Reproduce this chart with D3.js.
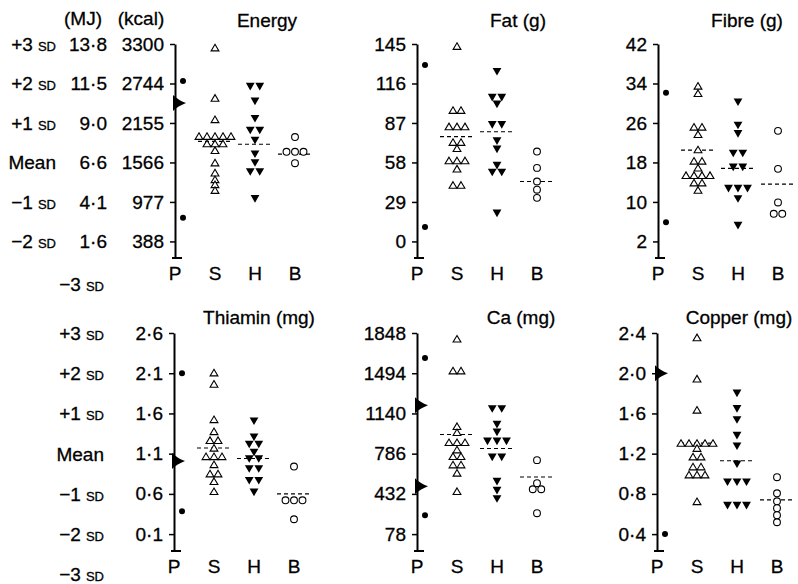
<!DOCTYPE html>
<html>
<head>
<meta charset="utf-8">
<script src="https://cdn.jsdelivr.net/npm/d3@7"></script>
<style>
  body { margin: 0; background: #fff; }
  svg { display: block; font-family: "Liberation Sans", Arial, sans-serif; }
  svg text { stroke: #000; stroke-width: 0.3px; }
</style>
</head>
<body>
<svg id="chart" width="798" height="584"></svg>
<script>
// Panels, left to right, top row then bottom row
const panelTitles = ["Energy", "Fat (g)", "Fibre (g)", "Thiamin (mg)", "Ca (mg)", "Copper (mg)"];
const categories = ["P", "S", "H", "B"];

// Each axis is drawn as mean +/- n SD
const axisMean = [1566, 58, 18, 1.1, 786, 1.2];
const axisSD = [589, 29, 8, 0.5, 354, 0.4];
const sdSteps = [3, 2, 1, 0, -1, -2];
const sdLabels = ["+3", "+2", "+1", "Mean", "\u22121", "\u22122"];

const tickLabels = [
  ["3300", "2744", "2155", "1566", "977", "388"],
  ["145", "116", "87", "58", "29", "0"],
  ["42", "34", "26", "18", "10", "2"],
  ["2\u00b76", "2\u00b71", "1\u00b76", "1\u00b71", "0\u00b76", "0\u00b71"],
  ["1848", "1494", "1140", "786", "432", "78"],
  ["2\u00b74", "2\u00b70", "1\u00b76", "1\u00b72", "0\u00b78", "0\u00b74"]
];
const mjLabels = ["13\u00b78", "11\u00b75", "9\u00b70", "6\u00b76", "4\u00b71", "1\u00b76"];

// P: single-subject dots and pointer marks on the axis
const pValues = [[2780, 740], [129.5, 10.5], [32.1, 5.9], [2.1, 0.385], [1627, 245], [0.4]];
const pArrows = [[2453], [], [], [1.01], [1213, 500], [2.0]];

// S group (open triangles)
const sValues = [
  [3270, 2520, 2200, 1950, 1950, 1950, 1950, 1950, 1840, 1840, 1840, 1740, 1555, 1405, 1305, 1230, 1145],
  [143, 96, 96, 84, 84, 84, 72.5, 72.5, 68, 59, 59, 59, 53, 41, 41],
  [33.4, 31.9, 25.1, 25.1, 23.6, 20.5, 18.2, 18.2, 16.8, 15.3, 15.3, 15.3, 15.3, 13.8, 13.8, 12.3],
  [2.1, 1.96, 1.52, 1.37, 1.26, 1.26, 1.165, 1.06, 1.06, 1.06, 0.96, 0.845, 0.845, 0.75, 0.625],
  [1792, 1512, 1512, 1022, 969, 881, 881, 881, 817, 758, 758, 685, 685, 612, 450],
  [2.35, 1.94, 1.63, 1.30, 1.30, 1.30, 1.30, 1.30, 1.25, 1.165, 1.165, 1.066, 1.066, 0.986, 0.986, 0.986, 0.72]
];
// H group (filled down triangles)
const hValues = [
  [2705, 2705, 2485, 2225, 2050, 2050, 1900, 1695, 1565, 1430, 1430, 1030],
  [125, 106, 106, 101, 86, 86, 74, 68, 56, 51, 51, 21],
  [30.3, 25.6, 23.9, 19.9, 19.9, 17.1, 17.1, 12.8, 12.8, 12.8, 10.7, 5.3],
  [1.51, 1.31, 1.22, 1.22, 1.12, 1.04, 1.04, 0.915, 0.915, 0.77, 0.77, 0.625],
  [1184, 1184, 1046, 978, 899, 899, 899, 758, 758, 544, 465, 391],
  [1.805, 1.65, 1.54, 1.384, 1.278, 1.10, 0.92, 0.92, 0.92, 0.688, 0.688, 0.688]
];
// B group (open circles)
const bValues = [
  [1945, 1725, 1725, 1725, 1555],
  [66, 54, 44, 38, 32],
  [24.4, 16.7, 9.9, 7.6, 7.6],
  [0.94, 0.52, 0.52, 0.52, 0.285],
  [729, 526, 473, 473, 262],
  [0.966, 0.806, 0.727, 0.658, 0.588, 0.518]
];
// group means (dashed lines)
const sMeans = [1880, 77, 20.5, 1.17, 955, 1.305];
const hMeans = [1837, 80.5, 16.8, 1.04, 832, 1.13];
const bMeans = [1690, 44, 13.6, 0.6, 580, 0.74];

// ---- layout ----
const svg = d3.select("#chart");
const axisX = [175, 417, 658, 174, 417, 657];
const titleDx = [92, 101, 89, 85, 104, 82];
const rows = [{ top: 44, foot: 258, title: 27 }, { top: 333, foot: 551, title: 324 }];
const colDx = { P: 0, S: 40, H: 80, B: 120 };
const fontSize = 19;

// spread equal values side by side
function dodge(values, spacing) {
  const out = [];
  for (const [v, arr] of d3.group(values, d => d)) {
    arr.forEach((_, i) => out.push({ v, dx: (i - (arr.length - 1) / 2) * spacing }));
  }
  return out;
}

const upTri = (x, y) => `M${x},${y - 3.9}L${x + 3.9},${y + 2.7}L${x - 3.9},${y + 2.7}Z`;
const downTri = (x, y) => `M${x - 4.4},${y - 3.3}L${x + 4.4},${y - 3.3}L${x},${y + 4.3}Z`;
const pointer = (x, y) => `M${x - 2},${y - 8}Q${x + 3},${y - 3} ${x + 11},${y}Q${x + 3},${y + 3} ${x - 2},${y + 8}Z`;

// left-hand SD labels
function sdLabel(sel, k, x, y) {
  const t = sel.append("text")
    .attr("x", x).attr("y", y).attr("dy", "0.36em")
    .attr("text-anchor", "end")
    .attr("font-size", fontSize);
  if (k === "Mean") { t.text("Mean"); return; }
  t.append("tspan").text(k);
  t.append("tspan").attr("font-size", 13).attr("dx", 5).text("SD");
}

rows.forEach((row, r) => {
  const i0 = r * 3;
  const y = d3.scaleLinear()
    .domain([axisMean[i0] - 2.42 * axisSD[i0], axisMean[i0] + 3 * axisSD[i0]])
    .range([row.foot, row.top]);
  const labelRight = r === 0 ? 56 : 104;
  sdSteps.forEach((k, j) => sdLabel(svg, sdLabels[j], labelRight, y(axisMean[i0] + k * axisSD[i0])));
  sdLabel(svg, "\u22123", 104, y(axisMean[i0] - 3 * axisSD[i0]) + (r === 0 ? 3 : 0));
});

// MJ column beside the energy axis
svg.append("text").attr("x", 83).attr("y", 25).attr("text-anchor", "middle")
  .attr("font-size", fontSize).text("(MJ)");
svg.append("text").attr("x", 141).attr("y", 25).attr("text-anchor", "middle")
  .attr("font-size", fontSize).text("(kcal)");

panelTitles.forEach((title, i) => {
  const row = rows[Math.floor(i / 3)];
  const ax = axisX[i];
  const mean = axisMean[i], sd = axisSD[i];
  const y = d3.scaleLinear()
    .domain([mean - 2.42 * sd, mean + 3 * sd])
    .range([row.foot, row.top]);
  const ticks = sdSteps.map(k => mean + k * sd);

  const g = svg.append("g");

  // axis
  const axis = g.append("g")
    .attr("transform", `translate(${ax},0)`)
    .call(d3.axisLeft(y)
      .tickValues(ticks)
      .tickFormat((d, j) => tickLabels[i][j])
      .tickSize(5)
      .tickSizeOuter(0)
      .tickPadding(6));
  axis.select(".domain").attr("stroke-width", 2);
  axis.selectAll(".tick line").attr("stroke-width", 1.5);
  axis.selectAll(".tick text")
    .attr("font-size", fontSize)
    .attr("font-family", "Liberation Sans, Arial, sans-serif")
    .attr("fill", "#000");

  g.append("line")
    .attr("x1", ax - 3).attr("x2", ax + 7)
    .attr("y1", row.foot).attr("y2", row.foot)
    .attr("stroke", "#000").attr("stroke-width", 2);

  if (i === 0) {
    g.selectAll("text.mj")
      .data(ticks)
      .enter().append("text")
        .attr("class", "mj")
        .attr("x", 107)
        .attr("y", d => y(d))
        .attr("dy", "0.36em")
        .attr("text-anchor", "end")
        .attr("font-size", fontSize)
        .text((d, j) => mjLabels[j]);
  }

  // title
  g.append("text")
    .attr("x", ax + titleDx[i])
    .attr("y", row.title)
    .attr("text-anchor", "middle")
    .attr("font-size", fontSize)
    .text(title);

  // category labels
  g.selectAll("text.cat")
    .data(categories)
    .enter().append("text")
      .attr("class", "cat")
      .attr("x", d => ax + colDx[d])
      .attr("y", row.foot + 22)
      .attr("text-anchor", "middle")
      .attr("font-size", fontSize)
      .text(d => d);

  // P column
  g.selectAll("path.ptr")
    .data(pArrows[i])
    .enter().append("path")
      .attr("class", "ptr")
      .attr("d", d => pointer(ax, y(d)))
      .attr("fill", "#000");
  g.selectAll("circle.p")
    .data(pValues[i])
    .enter().append("circle")
      .attr("class", "p")
      .attr("cx", ax + 8)
      .attr("cy", d => y(d))
      .attr("r", 3)
      .attr("fill", "#000");

  // mean lines
  [["S", sMeans], ["H", hMeans], ["B", bMeans]].forEach(([c, m]) => {
    g.append("line")
      .attr("x1", ax + colDx[c] - 17).attr("x2", ax + colDx[c] + 17)
      .attr("y1", y(m[i])).attr("y2", y(m[i]))
      .attr("stroke", "#000")
      .attr("stroke-width", 1.1)
      .attr("stroke-dasharray", "4,3");
  });

  // S
  g.selectAll("path.s")
    .data(dodge(sValues[i], 8))
    .enter().append("path")
      .attr("class", "s")
      .attr("d", d => upTri(ax + colDx.S + d.dx, y(d.v)))
      .attr("fill", "#fff")
      .attr("stroke", "#000")
      .attr("stroke-width", 1.1);

  // H
  g.selectAll("path.h")
    .data(dodge(hValues[i], 9.5))
    .enter().append("path")
      .attr("class", "h")
      .attr("d", d => downTri(ax + colDx.H + d.dx, y(d.v)))
      .attr("fill", "#000");

  // B
  g.selectAll("circle.b")
    .data(dodge(bValues[i], 8.5))
    .enter().append("circle")
      .attr("class", "b")
      .attr("cx", d => ax + colDx.B + d.dx)
      .attr("cy", d => y(d.v))
      .attr("r", 3.4)
      .attr("fill", "#fff")
      .attr("stroke", "#000")
      .attr("stroke-width", 1.1);
});
</script>
</body>
</html>
